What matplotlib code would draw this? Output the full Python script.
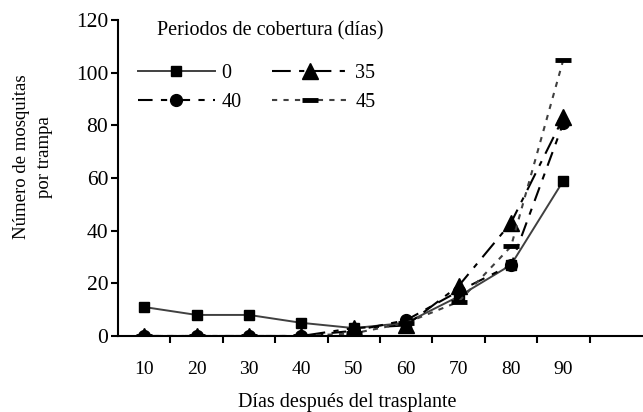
import matplotlib
matplotlib.use("Agg")
import matplotlib.pyplot as plt
from matplotlib.ticker import FixedLocator, NullFormatter

plt.rcParams['font.family'] = ['Liberation Serif', 'DejaVu Serif']

dias = [10, 20, 30, 40, 50, 60, 70, 80, 90]
serie_0 = [11, 8, 8, 5, 3, 5, 15, 27, 59]
serie_35 = [0, 0, 0, 0, 3, 4, 19, 43, 83]
serie_40 = [0, 0, 0, 0, 2, 6, 17, 27, 81]
serie_45 = [0, 0, 0, 0, 1, 5, 13, 34, 105]
etiquetas = ["0", "35", "40", "45"]

W, H = 643, 412


def plot_graph():
    fig = plt.figure(figsize=(W / 100, H / 100), dpi=100)
    ax = fig.add_axes([118 / W, 1 - 336 / H, 524 / W, 316 / H])
    x = list(range(len(dias)))

    l0, = ax.plot(x, serie_0, color='#404040', lw=1.4, ls='-',
                  marker='s', ms=7, mfc='black', mec='black')
    l35, = ax.plot(x, serie_35, color='black', lw=1.5, ls=(0, (9, 4, 2.5, 4)),
                   marker='^', ms=11, mfc='black', mec='black')
    l40, = ax.plot(x, serie_40, color='black', lw=1.5, ls=(0, (7, 4, 3, 4)),
                   marker='o', ms=8.5, mfc='black', mec='black')
    l45, = ax.plot(x, serie_45, color='#404040', lw=1.5, ls=(0, (2.5, 3)),
                   marker='_', ms=11, mew=3.5, mfc='black', mec='black')

    ax.set_xlim(-0.5, 9.5)
    ax.set_ylim(0, 120)
    ax.set_yticks(range(0, 121, 20))
    ax.set_xticks(x)
    ax.set_xticklabels([str(d) for d in dias])
    ax.tick_params(axis='x', which='major', length=0, pad=18, labelsize=14)
    ax.xaxis.set_minor_locator(FixedLocator([i + 0.5 for i in range(9)]))
    ax.xaxis.set_minor_formatter(NullFormatter())
    ax.tick_params(axis='x', which='minor', direction='out', length=5, width=1.5)
    ax.tick_params(axis='y', direction='out', length=5, width=1.5, labelsize=15.5, pad=2)

    ax.spines['top'].set_visible(False)
    ax.spines['right'].set_visible(False)
    ax.spines['left'].set_linewidth(1.5)
    ax.spines['bottom'].set_linewidth(1.5)

    fig.text(347 / W, 1 - 402 / H, "Días después del trasplante", fontsize=14.5,
             ha='center', va='center')
    fig.text(33 / W, 1 - 157 / H, "Número de mosquitas\npor trampa", fontsize=13.5,
             rotation=90, ha='center', va='center', multialignment='center',
             linespacing=1.45)

    fig.text(157 / W, 1 - 31 / H, "Periodos de cobertura (días)", fontsize=14.5,
             ha='left', va='center')
    ax.legend([l0, l40, l35, l45], [etiquetas[0], etiquetas[2], etiquetas[1], etiquetas[3]],
              ncol=2, frameon=False, loc='upper left',
              bbox_to_anchor=(138 / W, 1 - 64 / H), bbox_transform=fig.transFigure,
              borderpad=0, borderaxespad=0, fontsize=14.5,
              handlelength=3.8, handletextpad=0.35,
              columnspacing=1.5, labelspacing=0.5)

    fig.savefig("out.png", dpi=100)


if __name__ == "__main__":
    plot_graph()
